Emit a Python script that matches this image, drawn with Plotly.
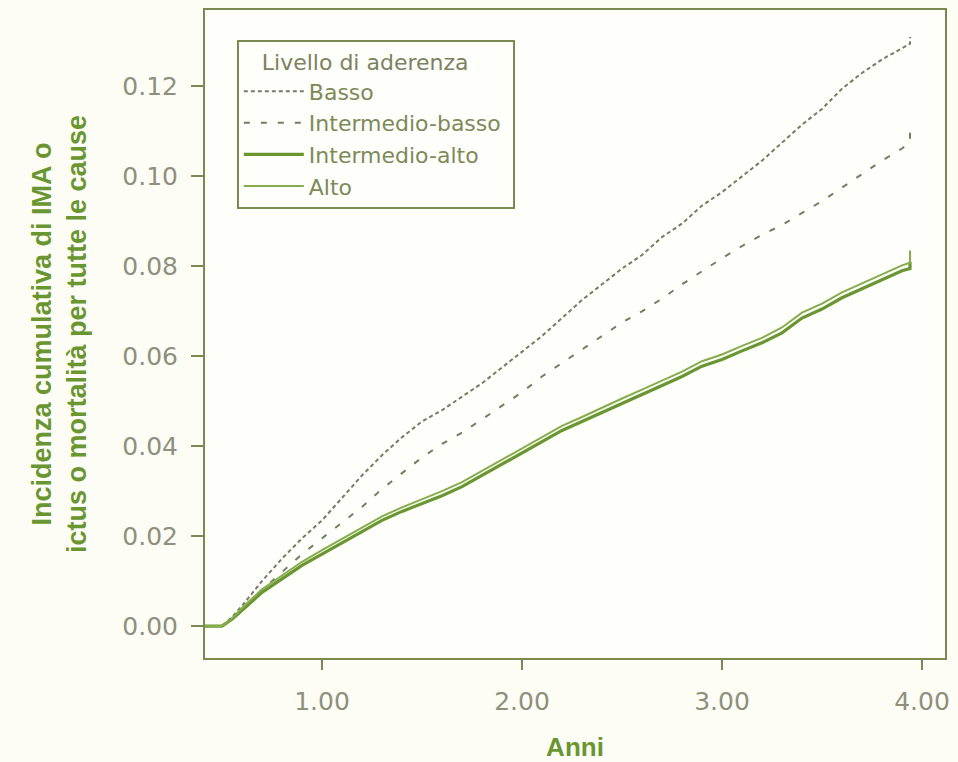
import plotly.graph_objects as go

# Follow-up time (years)
anni = [0.40, 0.50, 0.55, 0.60, 0.70, 0.80, 0.90, 1.00, 1.10, 1.20, 1.30, 1.40,
        1.50, 1.60, 1.70, 1.80, 1.90, 2.00, 2.10, 2.20, 2.30, 2.40, 2.50, 2.60,
        2.70, 2.80, 2.90, 3.00, 3.10, 3.20, 3.30, 3.40, 3.50, 3.60, 3.70, 3.80,
        3.90, 3.94]

# Cumulative incidence by adherence level
basso = [0, 0, 0.0020, 0.0045, 0.0100, 0.0150, 0.0195, 0.0235, 0.0285, 0.0335,
         0.0380, 0.0420, 0.0455, 0.0480, 0.0510, 0.0540, 0.0575, 0.0610, 0.0645,
         0.0685, 0.0725, 0.0760, 0.0795, 0.0825, 0.0865, 0.0895, 0.0935, 0.0965,
         0.1000, 0.1035, 0.1075, 0.1115, 0.1150, 0.1195, 0.1230, 0.1260, 0.1285,
         0.1295]
intermedio_basso = [0, 0, 0.0015, 0.0040, 0.0080, 0.0120, 0.0160, 0.0195, 0.0230,
                    0.0265, 0.0305, 0.0340, 0.0375, 0.0405, 0.0430, 0.0460, 0.0490,
                    0.0520, 0.0555, 0.0585, 0.0615, 0.0645, 0.0675, 0.0700, 0.0728,
                    0.0760, 0.0790, 0.0818, 0.0845, 0.0870, 0.0892, 0.0918, 0.0945,
                    0.0975, 0.1005, 0.1035, 0.1062, 0.1075]
intermedio_alto = [0, 0, 0.0015, 0.0035, 0.0075, 0.0105, 0.0135, 0.0160, 0.0185,
                   0.0210, 0.0235, 0.0255, 0.0273, 0.0290, 0.0310, 0.0335, 0.0360,
                   0.0385, 0.0410, 0.0435, 0.0455, 0.0475, 0.0495, 0.0515, 0.0535,
                   0.0555, 0.0578, 0.0593, 0.0612, 0.0630, 0.0652, 0.0685, 0.0705,
                   0.0730, 0.0750, 0.0770, 0.0790, 0.0795]
alto = [0, 0, 0.0017, 0.0040, 0.0082, 0.0113, 0.0143, 0.0169, 0.0194, 0.0219,
        0.0244, 0.0264, 0.0282, 0.0300, 0.0320, 0.0345, 0.0370, 0.0395, 0.0420,
        0.0445, 0.0465, 0.0486, 0.0506, 0.0526, 0.0546, 0.0566, 0.0589, 0.0604,
        0.0623, 0.0641, 0.0664, 0.0697, 0.0717, 0.0742, 0.0762, 0.0782, 0.0802,
        0.0808]

# Censoring mark height at the end of each curve
fine_curva = [0.1310, 0.1100, 0.0810, 0.0835]

etichette = ["Basso", "Intermedio-basso", "Intermedio-alto", "Alto"]
x_ticks = [1, 2, 3, 4]
x_ticktext = ["1.00", "2.00", "3.00", "4.00"]
y_ticks = [0, 0.02, 0.04, 0.06, 0.08, 0.10, 0.12]
y_ticktext = ["0.00", "0.02", "0.04", "0.06", "0.08", "0.10", "0.12"]

OLIVE = "#7b8a52"
GRIGIO = "#7a7a68"
VERDE = "#6a9632"
VERDE_CHIARO = "#86ad4c"
TESTO = "#8d907c"
TITOLO_FONT = "Liberation Sans Narrow, Liberation Sans"

stili = [
    dict(color=GRIGIO, width=2, dash="4px,3px"),
    dict(color=GRIGIO, width=2, dash="6px,11px"),
    dict(color=VERDE, width=3.2),
    dict(color=VERDE_CHIARO, width=2),
]

fig = go.Figure()
for nome, serie, fine, stile in zip(etichette,
                                    [basso, intermedio_basso, intermedio_alto, alto],
                                    fine_curva, stili):
    fig.add_trace(go.Scatter(
        x=anni + [anni[-1]],
        y=serie + [fine],
        mode="lines",
        name=nome,
        line=stile,
        hoverinfo="skip",
    ))

fig.update_layout(
    width=958, height=762,
    margin=dict(l=205, r=13, t=10, b=104),
    paper_bgcolor="#fdfdf6",
    plot_bgcolor="#fefefb",
    showlegend=True,
    legend=dict(
        x=0.043, y=0.954, xanchor="left", yanchor="top",
        bgcolor="#fefefb", bordercolor=OLIVE, borderwidth=2,
        title=dict(text="   Livello di aderenza&nbsp;&nbsp;&nbsp;&nbsp;&nbsp;&nbsp;",
                   font=dict(family="DejaVu Sans", size=22, color="#7c8260")),
        font=dict(family="DejaVu Sans", size=22, color="#7d8a58"),
        itemwidth=60,
        tracegroupgap=0,
    ),
    xaxis=dict(
        range=[0.415, 4.115],
        automargin=False,
        tickvals=x_ticks, ticktext=x_ticktext,
        ticks="outside", ticklen=10, tickwidth=1.5, tickcolor=OLIVE,
        ticklabelstandoff=10,
        tickfont=dict(family="DejaVu Sans", size=25, color=TESTO),
        showgrid=False, zeroline=False,
        showline=True, linecolor=OLIVE, linewidth=2, mirror=True,
        title=dict(text="<b>Anni</b>", standoff=24,
                   font=dict(family=TITOLO_FONT, size=26, color=VERDE)),
    ),
    yaxis=dict(
        range=[-0.0071, 0.137],
        automargin=False,
        tickvals=y_ticks, ticktext=y_ticktext,
        ticks="outside", ticklen=12, tickwidth=1.5, tickcolor=OLIVE,
        ticklabelstandoff=8,
        tickfont=dict(family="DejaVu Sans", size=25, color=TESTO),
        showgrid=False, zeroline=False,
        showline=True, linecolor=OLIVE, linewidth=2, mirror=True,
        title=dict(text="<b>Incidenza cumulativa di IMA o<br>ictus o mortalità per tutte le cause</b>",
                   standoff=28,
                   font=dict(family=TITOLO_FONT, size=27, color=VERDE)),
    ),
)

fig.write_html("out.html")
